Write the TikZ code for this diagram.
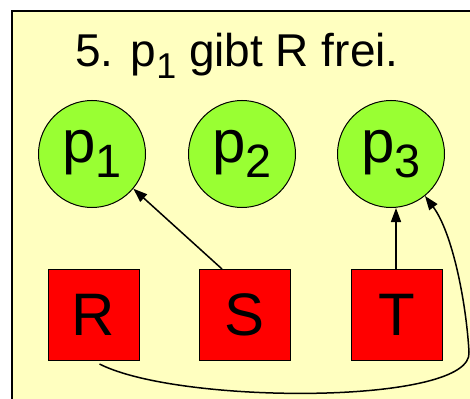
\documentclass[tikz,border=0pt]{standalone}
\usepackage{fontspec}
\setmainfont{Liberation Sans}
\usetikzlibrary{positioning,arrows.meta}
\definecolor{bgyellow}{HTML}{FFFFC0}
\definecolor{procgreen}{HTML}{99FF33}
\definecolor{resred}{HTML}{FF0000}
\newcommand{\lowidx}[1]{\raisebox{-0.25em}{\scalebox{0.78}{#1}}}

\begin{document}
\begin{tikzpicture}[x=1pt, y=1pt, node distance={42pt},
		proc/.style={draw, circle, fill=procgreen, line width=1pt, minimum size=107pt, inner sep=0pt, font=\fontsize{60}{70}\selectfont},
		res/.style={draw, rectangle, fill=resred, line width=1pt, minimum size=91pt, inner sep=0pt, font=\fontsize{60}{70}\selectfont},
		conn/.style={line width=1.5pt, -{Triangle[length=14pt, width=10pt]}}]
		\clip (0,0) rectangle (470,-398);
		\draw[line width=1.5pt, fill=bgyellow] (12,-11) rectangle (490,-420);

		\node[anchor=base, font=\fontsize{46}{54}\selectfont] (title) at (237,-67) {5. p\lowidx{1} gibt R frei.};

		\node[proc] (p1) at (92,-154) {p\lowidx{1}};
		\node[proc] (p2) [right = of p1] {p\lowidx{2}};
		\node[proc] (p3) [right = 41pt of p2] {p\lowidx{3}};
		\node[res] (R) [below = 61pt of p1, xshift=1.5pt] {R};
		\node[res] (S) [below = 61pt of p2, xshift=3pt] {S};
		\node[res] (T) [below = 61pt of p3, xshift=6pt] {T};

		\draw[conn] ([xshift=-23pt]S.north) -- (p1.-40);
		\draw[conn] ([xshift=-1pt]T.north) -- ([xshift=-1pt]T.north |- p3.south);
		\draw[conn] ([xshift=6pt, yshift=-3pt]R.south) .. controls (180,-405) and (474,-405) .. (469,-352)
			.. controls (466,-300) and (452,-232) .. (p3.-51);
	\end{tikzpicture}
\end{document}
